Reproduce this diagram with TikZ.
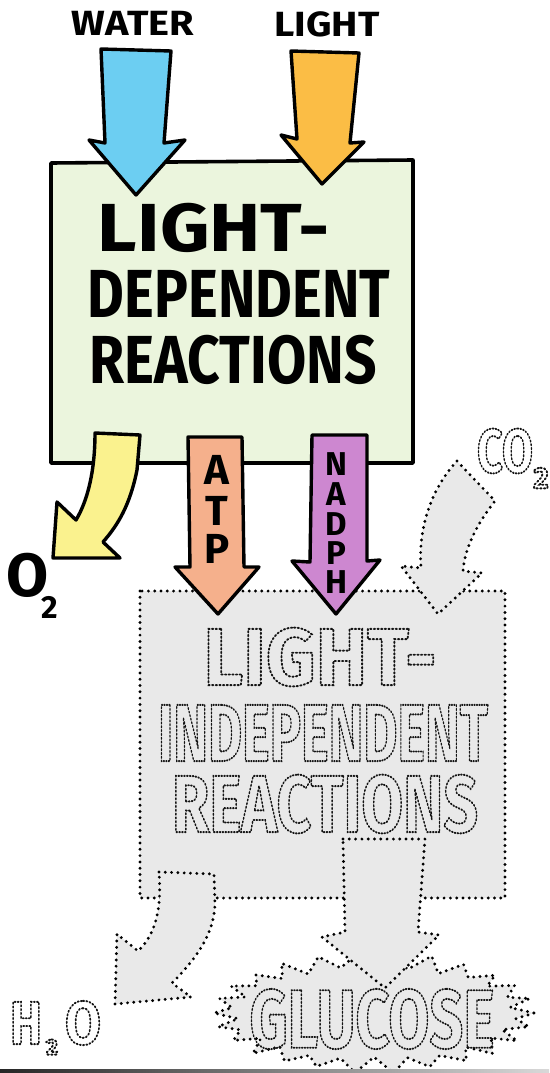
\documentclass[tikz,border=0pt]{standalone}
\usepackage{fontspec}
\setmainfont{Fira Sans}
\usepackage{graphicx}
\usetikzlibrary{calc}

\definecolor{waterblue}{RGB}{108,206,242}
\definecolor{lightorange}{RGB}{251,189,69}
\definecolor{leafgreen}{RGB}{235,245,221}
\definecolor{oxyellow}{RGB}{250,242,142}
\definecolor{atpsalmon}{RGB}{245,176,140}
\definecolor{nadphpurple}{RGB}{205,135,208}
\definecolor{ghostgray}{RGB}{233,233,233}
\definecolor{inkgray}{RGB}{20,20,20}

\newcommand{\fitw}[2]{\resizebox{#1pt}{\height}{#2}}
\newcommand{\hollow}[1]{\special{pdf:literal direct 1 Tr 1.9 w 1 J [1.4 2.4] 0 d}#1\special{pdf:literal direct 0 Tr [] 0 d 0 J}}

\begin{document}
\begin{tikzpicture}[x=1pt, y=-1pt,
  bigarrow/.style={draw=black, line width=3.4pt, line join=round},
  ghost/.style={fill=ghostgray, draw=black, line width=3.2pt, line cap=round, dash pattern=on 0pt off 6.3pt},
  inkword/.style={inner sep=0pt, font=\bfseries\fontsize{#1}{#1}\selectfont},
  hollowword/.style={inner sep=0pt, text=inkgray, font=\bfseries\fontsize{#1}{#1}\selectfont}]

\useasboundingbox (0,0) rectangle (549,1073);

% Boxes
\draw[fill=leafgreen, line width=3.6pt, line join=round] (51,163) -- (413,160) -- (413,463) -- (51,463) -- cycle;
\draw[ghost] (140,591) rectangle (505,898);

% Starburst round the product
\foreach \k in {0,...,51} {
  \pgfmathsetmacro{\rx}{160-20*mod(\k,2)+3*sin(97*\k)}
  \pgfmathsetmacro{\ry}{59-13*mod(\k,2)+2*sin(131*\k)}
  \pgfmathsetmacro{\ang}{6.923*\k}
  \coordinate (s\k) at ({374+\rx*cos(\ang)}, {1013+\ry*sin(\ang)});
}
\draw[ghost] (s0) \foreach \k in {1,...,51} {-- (s\k)} -- cycle;

% Inputs
\draw[bigarrow, fill=waterblue] (101,49) -- (171,51) -- (164,143) -- (185,140) -- (136,195) -- (89,140) -- (105,143) -- cycle;
\draw[bigarrow, fill=lightorange] (291,51) -- (359,53) -- (350,143) -- (364,142) -- (322,184) -- (281,135) -- (297,139) -- cycle;

% Outputs of the light-dependent reactions
\draw[bigarrow, fill=oxyellow] (95,433) -- (140,435) -- (137,470) .. controls (130,505) and (118,525) .. (103,542) -- (120,558) -- (53,558) -- (57,502) -- (76,520) .. controls (88,500) and (95,470) .. (95,433) -- cycle;
\draw[bigarrow, fill=atpsalmon] (188,437) -- (242,437) -- (244,567) -- (259,567) -- (218,614) -- (175,567) -- (190,567) -- cycle;
\draw[bigarrow, fill=nadphpurple] (312,435) -- (367,435) -- (367,561) -- (380,560) -- (336,614) -- (292,561) -- (310,562) -- cycle;

% Light-independent side
\draw[ghost] (457,461) -- (495,501) .. controls (480,520) and (465,545) .. (463,571) -- (482,573) -- (438,614) -- (401,566) -- (421,568) .. controls (418,530) and (430,490) .. (457,461) -- cycle;
\draw[ghost] (159,872) -- (214,874) -- (215,904) .. controls (214,935) and (195,960) .. (172,983) -- (191,997) -- (115,1004) -- (117,934) -- (138,951) .. controls (155,935) and (162,910) .. (159,872) -- cycle;
\draw[ghost] (343,839) -- (425,839) -- (418,932) -- (439,935) -- (385,988) -- (322,937) -- (345,932) -- cycle;

% Labels
\node[inkword=35] (water) at (133,23) {\fitw{122}{WATER}};
\node[inkword=35] (light) at (327,24) {\fitw{105}{LIGHT}};
\node[inkword=68] (ldA) at (214,228) {\fitw{232}{LIGHT-}};
\node[inkword=68] (ldB) at (239,294) {\fitw{302}{DEPENDENT}};
\node[inkword=68] (ldC) at (233,360) {\fitw{287}{REACTIONS}};
\node[inkword=61] (oxy) at (28,575) {O};
\node[inkword=32] (oxysub) at (50,607) {2};
\foreach \ch/\yy [count=\i] in {A/470, T/511, P/549}
  \node[inkword=42] (atp\i) at (217,\yy) {\ch};
\foreach \ch/\yy [count=\i] in {N/464, A/494, D/524, P/553, H/582}
  \node[inkword=33] (nadph\i) at (336,\yy) {\ch};

\node[hollowword=81] (liA) at (320,657) {\fitw{233}{\hollow{LIGHT-}}};
\node[hollowword=81] (liB) at (323,733) {\fitw{330}{\hollow{INDEPENDENT}}};
\node[hollowword=81] (liC) at (325,804) {\fitw{306}{\hollow{REACTIONS}}};
\node[hollowword=83] (glucose) at (372,1019) {\fitw{245}{\hollow{GLUCOSE}}};
\node[hollowword=62] (carbon) at (505,451) {\fitw{56}{\hollow{CO}}};
\node[hollowword=30] (carbonsub) at (541,478) {\hollow{2}};
\node[hollowword=61] (hyd) at (26,1023) {\fitw{32}{\hollow{H}}};
\node[hollowword=22] (hydsub) at (52,1047) {\hollow{2}};
\node[hollowword=61] (hydO) at (83,1023) {\fitw{36}{\hollow{O}}};

\fill[left color=black!85, right color=black!15] (0,1069) rectangle (549,1073);

\end{tikzpicture}
\end{document}
